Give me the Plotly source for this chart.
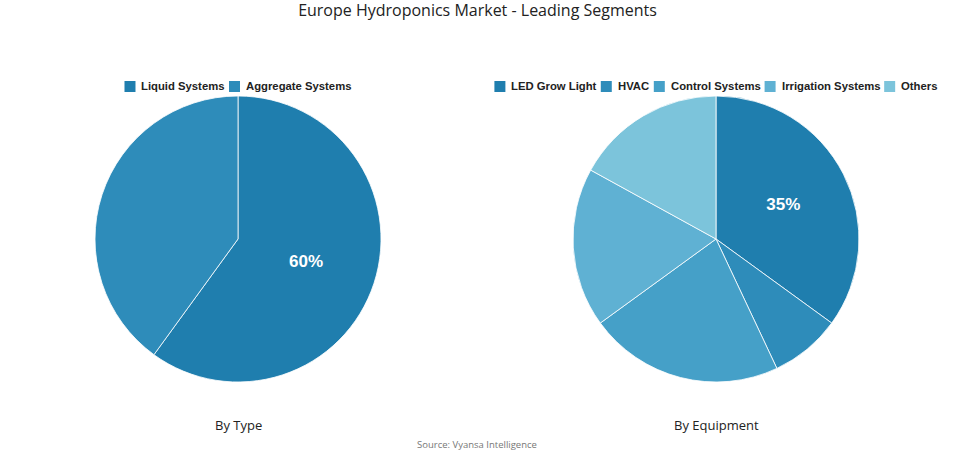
import plotly.graph_objects as go

type_labels = ["Liquid Systems", "Aggregate Systems"]
type_values = [60, 40]
type_text = ["60%", ""]

equip_labels = ["LED Grow Light", "HVAC", "Control Systems", "Irrigation Systems", "Others"]
equip_values = [35, 8, 22, 18, 17]
equip_text = ["35%", "", "", "", ""]

type_colors = ["#1f7eae", "#2e8cba"]
equip_colors = ["#1f7eae", "#2e8cba", "#45a0c8", "#5fb1d3", "#7cc4db"]

W, H = 955, 454
CY = 239          # pie centre (px from top)
R = 143           # pie radius (px)
LEG_Y = 86.5      # legend row (px from top)
LEG_FS = 11.3

# Helvetica-Bold advance widths (per 1000 em) for legend layout
AW = {' ': 278, 'A': 722, 'C': 722, 'D': 722, 'E': 667, 'G': 778, 'H': 722, 'I': 278,
      'L': 611, 'O': 778, 'S': 667, 'V': 667, 'a': 556, 'c': 556, 'd': 611, 'e': 556,
      'g': 611, 'h': 611, 'i': 278, 'l': 278, 'm': 889, 'n': 611, 'o': 611, 'q': 611,
      'r': 389, 's': 556, 't': 333, 'u': 611, 'w': 778, 'y': 556}


def text_w(s, fs=LEG_FS):
    return sum(AW.get(c, 556) for c in s) * fs / 1000.0


fig = go.Figure()
pie_font = dict(family="Liberation Sans, Arial", size=17, color="white", weight="bold")
for cx, labels, values, text, colors in [
    (238, type_labels, type_values, type_text, type_colors),
    (716, equip_labels, equip_values, equip_text, equip_colors),
]:
    fig.add_trace(go.Pie(
        labels=labels, values=values, text=text,
        texttemplate="%{text}", textposition="inside", insidetextorientation="horizontal",
        sort=False, direction="clockwise", rotation=0, showlegend=False,
        marker=dict(colors=colors, line=dict(color="white", width=0.8)),
        textfont=pie_font,
        domain=dict(x=[(cx - R) / W, (cx + R) / W], y=[(H - CY - R) / H, (H - CY + R) / H]),
        hoverinfo="label+percent",
    ))

shapes = []
annotations = []
SQ, GAP1, GAP2 = 11, 6, 4
for cx, labels, colors in [(238, type_labels, type_colors), (716, equip_labels, equip_colors)]:
    widths = [text_w(s) for s in labels]
    total = sum(SQ + GAP1 + w for w in widths) + GAP2 * (len(labels) - 1)
    x = cx - total / 2
    for lab, col, w in zip(labels, colors, widths):
        shapes.append(dict(type="rect", xref="paper", yref="paper",
                           x0=x / W, x1=(x + SQ) / W,
                           y0=1 - (LEG_Y + SQ / 2) / H, y1=1 - (LEG_Y - SQ / 2) / H,
                           fillcolor=col, line=dict(width=0)))
        annotations.append(dict(text=lab, x=(x + SQ + GAP1) / W, y=1 - LEG_Y / H,
                                xref="paper", yref="paper", showarrow=False,
                                xanchor="left", yanchor="middle", borderpad=0, borderwidth=0,
                                font=dict(family="Liberation Sans, Arial", size=LEG_FS,
                                          color="#222222", weight="bold")))
        x += SQ + GAP1 + w + GAP2

sub_font = dict(family="Open Sans, Lato", size=13, color="#222222")
annotations += [
    dict(text="By Type", x=238 / W, y=1 - 425 / H, xref="paper", yref="paper",
         showarrow=False, xanchor="center", yanchor="middle", font=sub_font),
    dict(text="By Equipment", x=716 / W, y=1 - 425 / H, xref="paper", yref="paper",
         showarrow=False, xanchor="center", yanchor="middle", font=sub_font),
    dict(text="Source: Vyansa Intelligence", x=477 / W, y=1 - 444 / H, xref="paper", yref="paper",
         showarrow=False, xanchor="center", yanchor="middle",
         font=dict(family="Open Sans, Lato", size=9.5, color="#777777")),
]

fig.update_layout(
    width=W, height=H,
    margin=dict(l=0, r=0, t=0, b=0),
    paper_bgcolor="white", plot_bgcolor="white",
    showlegend=False,
    title=dict(text="Europe Hydroponics Market - Leading Segments",
               x=0.5, xanchor="center", y=1 - 10 / H, yanchor="middle",
               font=dict(family="Open Sans, Lato", size=16, color="#222222")),
    shapes=shapes,
    annotations=annotations,
)

fig.write_html("out.html")
